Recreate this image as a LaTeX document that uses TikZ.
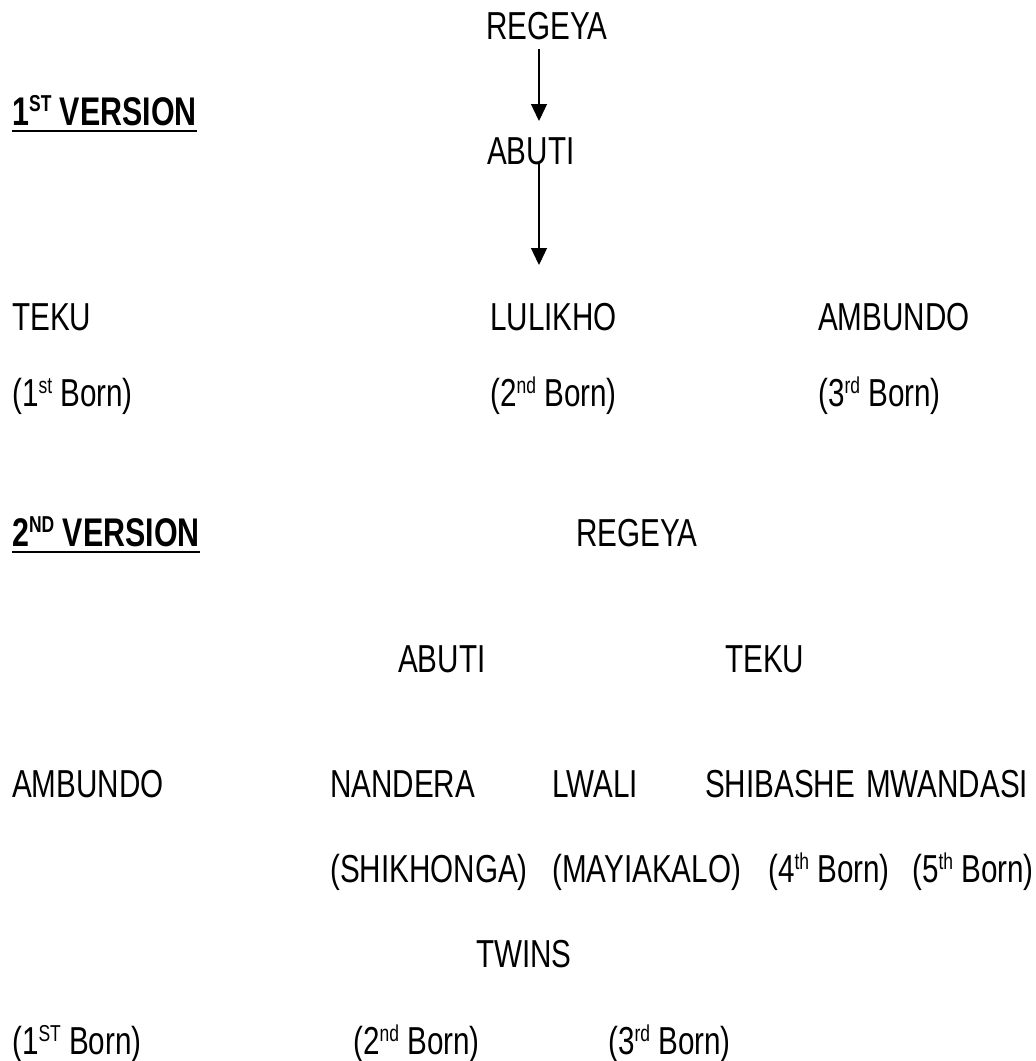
\documentclass[tikz,border=0pt]{standalone}
\usepackage{fontspec}
\setmainfont{Liberation Sans}[FakeStretch=0.76]
\usetikzlibrary{arrows.meta}
\newcommand\ssup[1]{\raisebox{0.33em}{\fontsize{23}{23}\selectfont #1}}
\begin{document}
\begin{tikzpicture}[x=1pt,y=-1pt,
  lbl/.style={anchor=base west,inner sep=0pt,font=\fontsize{39}{46}\selectfont},
  head/.style={lbl,font=\fontsize{40}{46}\selectfont\bfseries},
  arr/.style={line width=1.3pt,-{Triangle[width=16pt,length=17pt]}},
  uline/.style={line width=2.6pt}]
\useasboundingbox (0,0) rectangle (1036,1061);
\coordinate (ax) at (539,0);
% 1st version
\node[lbl] (reg1) at (486,39) {REGEYA};
\node[head] (v1) at (12,125) {1\ssup{ST} VERSION};
\draw[uline] ([yshift=-6pt]v1.base west) -- ([yshift=-6pt]v1.base east);
\node[lbl] (abu1) at (487,164) {ABUTI};
\coordinate (a2e) at (539,265);
\draw[arr] ([yshift=-10pt]reg1.base -| ax) -- ([yshift=43pt]abu1.base -| ax);
\draw[arr] ([yshift=2pt]abu1.base -| ax) -- (a2e);
\node[lbl] (teku1) at (12,330) {TEKU};
\node[lbl] (lul1) at (490,330) {LULIKHO};
\node[lbl] (amb1) at (818,330) {AMBUNDO};
\node[lbl] (b11) at (12,406) {(1\ssup{st} Born)};
\node[lbl] (b12) at (490,406) {(2\ssup{nd} Born)};
\node[lbl] (b13) at (818,406) {(3\ssup{rd} Born)};
% 2nd version
\node[head] (v2) at (12,546) {2\ssup{ND} VERSION};
\draw[uline] ([yshift=-6pt]v2.base west) -- ([yshift=-6pt]v2.base east);
\node[lbl] (reg2) at (576,546) {REGEYA};
\node[lbl] (abu2) at (398,672) {ABUTI};
\node[lbl] (teku2) at (725,672) {TEKU};
\node[lbl] (amb2) at (12,797) {AMBUNDO};
\node[lbl] (nan) at (330,797) {NANDERA};
\node[lbl] (lwa) at (552,797) {LWALI};
\node[lbl] (shi) at (705,797) {SHIBASHE};
\node[lbl] (mwa) at (866,797) {MWANDASI};
\node[lbl] (shk) at (330,882) {(SHIKHONGA)};
\node[lbl] (may) at (552,882) {(MAYIAKALO)};
\node[lbl] (b4) at (768,882) {(4\ssup{th} Born)};
\node[lbl] (b5) at (912,882) {(5\ssup{th} Born)};
\node[lbl] (twins) at (476,967) {TWINS};
\node[lbl] (c1) at (12,1054) {(1\ssup{ST} Born)};
\node[lbl] (c2) at (353,1054) {(2\ssup{nd} Born)};
\node[lbl] (c3) at (608,1054) {(3\ssup{rd} Born)};
\end{tikzpicture}
\end{document}
